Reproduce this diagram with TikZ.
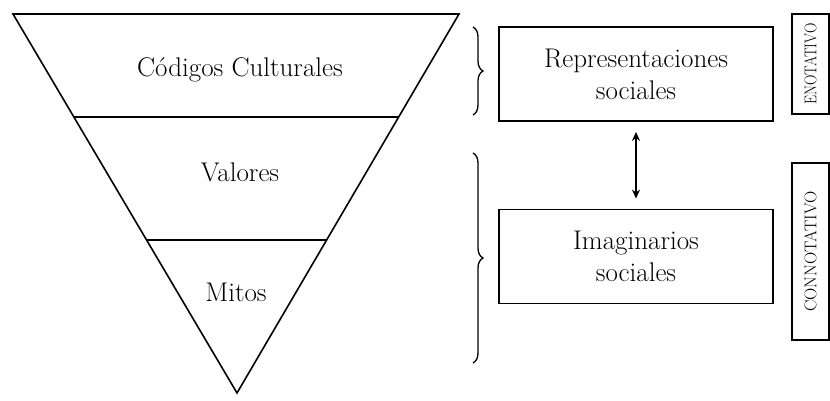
\documentclass[tikz,border=0pt]{standalone}
\usepackage{tikz}
\usetikzlibrary{arrows.meta, decorations.pathreplacing, positioning}

\begin{document}
\begin{tikzpicture}[x=1pt, y=-1pt,
    caja/.style={draw, line width=1.8pt, minimum width=274pt, minimum height=94pt, align=center, font=\fontsize{27}{32}\selectfont},
    nivel/.style={font=\fontsize{27}{32}\selectfont},
    lado/.style={draw, line width=1.6pt, rotate=90, minimum height=37pt, inner sep=0pt, font=\fontsize{17}{19}\selectfont},
    llave/.style={decorate, decoration={brace, amplitude=10pt}, line width=1.3pt}]
  \useasboundingbox (0,0) rectangle (830,400);
  % Inverted triangle
  \draw[line width=1.6pt] (13,14) -- (459,14) -- (237,393) -- cycle;
  \draw[line width=1.6pt] (74,117) -- (399,117);
  \draw[line width=1.6pt] (146,240) -- (327,240);
  \node[nivel] (codigos) at (240,70) {Códigos Culturales};
  \node[nivel] (valores) at (240,172) {Valores};
  \node[nivel] (mitos) at (236,292) {Mitos};
  % Braces
  \draw[llave] (473,27) -- (473,115);
  \draw[llave] (473,153) -- (473,363);
  % Boxes and arrow
  \node[caja] (repr) at (636,74) {Representaciones\\sociales};
  \node[caja] (imag) at (636,256.5) {Imaginarios\\sociales};
  \draw[line width=1.6pt, {Stealth[length=9pt,width=8pt]}-{Stealth[length=9pt,width=8pt]}, shorten <=10pt, shorten >=10pt] (repr) -- (imag);
  % Side labels
  \node[lado, minimum width=100pt] (deno) at (810.5,64) {\scalebox{0.85}[1]{ENOTATIVO}};
  \node[lado, minimum width=177pt] (conno) at (810.5,251.5) {CONNOTATIVO};
\end{tikzpicture}
\end{document}
